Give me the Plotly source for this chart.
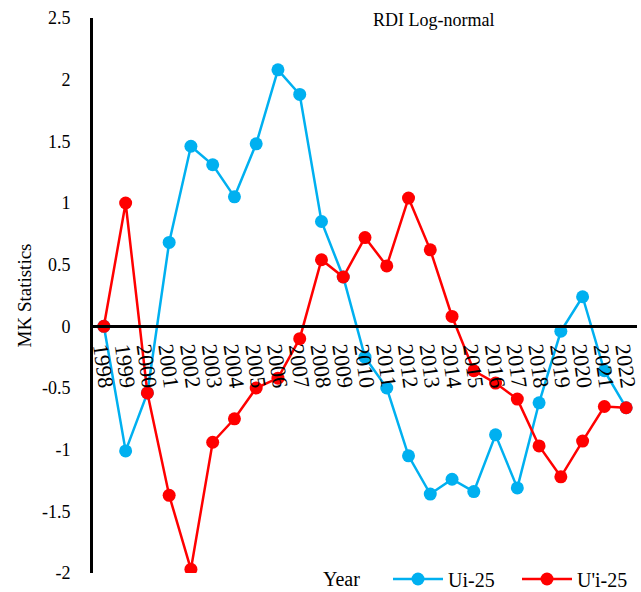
import plotly.graph_objects as go

years = [str(y) for y in range(1998, 2023)]
ui_25 = [0.0, -1.01, -0.54, 0.68, 1.46, 1.31, 1.05, 1.48, 2.08, 1.88, 0.85, 0.40,
         -0.25, -0.50, -1.05, -1.36, -1.24, -1.34, -0.88, -1.31, -0.62, -0.04, 0.24,
         -0.36, -0.66]
upi_25 = [0.0, 1.00, -0.54, -1.37, -1.97, -0.94, -0.75, -0.50, -0.42, -0.10, 0.54, 0.40,
          0.72, 0.49, 1.04, 0.62, 0.08, -0.36, -0.46, -0.59, -0.97, -1.22, -0.93,
          -0.65, -0.66]
y_ticks = [2.5, 2, 1.5, 1, 0.5, 0, -0.5, -1, -1.5, -2]
y_tick_text = ["2.5", "2", "1.5", "1", "0.5", "0", "-0.5", "-1", "-1.5", "-2"]

FONT = "Liberation Serif"
BLUE = "#00B0F0"
RED = "#FF0000"

fig = go.Figure()
fig.add_trace(go.Scatter(x=years, y=ui_25, name="Ui-25", mode="lines+markers",
                         line=dict(color=BLUE, width=2.5),
                         marker=dict(color=BLUE, size=13)))
fig.add_trace(go.Scatter(x=years, y=upi_25, name="U'i-25", mode="lines+markers",
                         line=dict(color=RED, width=2.5),
                         marker=dict(color=RED, size=13)))

ymin, ymax = -2, 2.5
PH = 555
LEG_Y = -6 / PH
fig.update_layout(
    width=641, height=592,
    margin=dict(l=93, r=4, t=18, b=19, autoexpand=False),
    paper_bgcolor="white", plot_bgcolor="white",
    font=dict(family=FONT, size=18, color="black"),
    showlegend=True,
    legend=dict(orientation="h", x=(388 - 93) / 544, xanchor="left",
                y=LEG_Y, yanchor="middle",
                font=dict(family=FONT, size=20), bgcolor="rgba(0,0,0,0)",
                itemwidth=50, entrywidth=64, entrywidthmode="pixels"),
    xaxis=dict(type="category", range=[-0.5, len(years) - 0.5],
               tickmode="array", tickvals=years, ticktext=years,
               showgrid=False, zeroline=False, showline=True, linecolor="black",
               linewidth=3, anchor="free", position=(0 - ymin) / (ymax - ymin),
               tickangle=82, ticks="", tickfont=dict(family=FONT, size=22)),
    yaxis=dict(range=[ymin, ymax], tickvals=y_ticks, ticktext=y_tick_text,
               showgrid=False, zeroline=False, showline=True, linecolor="black",
               linewidth=3, ticks="", ticklabelstandoff=16,
               tickfont=dict(family=FONT, size=18),
               title=dict(text="MK Statistics", font=dict(family=FONT, size=19),
                          standoff=6)),
    annotations=[
        dict(text="RDI Log-normal", x=(433 - 93) / 544, xref="paper", y=1 - 2 / PH,
             yref="paper", xanchor="center", yanchor="middle", showarrow=False,
             font=dict(family=FONT, size=18)),
        dict(text="Year", x=(341 - 93) / 544, xref="paper", y=LEG_Y, yref="paper",
             xanchor="center", yanchor="middle", showarrow=False,
             font=dict(family=FONT, size=20)),
    ],
)

fig.write_html("out.html")
